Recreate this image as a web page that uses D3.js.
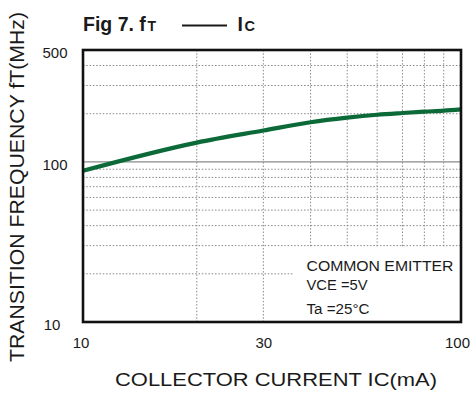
<!DOCTYPE html>
<html>
<head>
<meta charset="utf-8">
<script src="https://cdn.jsdelivr.net/npm/d3@7"></script>
<style>
  html, body { margin: 0; padding: 0; background: #fff; }
  svg { display: block; }
  text { font-family: "Liberation Sans", Arial, Helvetica, sans-serif; fill: #1a1a1a; }
</style>
</head>
<body>
<svg id="chart" width="473" height="395"></svg>
<script>
// ---- data ----
const icValues = [10, 20, 30, 40, 50, 60, 70, 80, 90, 100];        // IC (mA)
const ftValues = [88, 132, 157, 177, 189, 197, 202, 206, 209, 213]; // fT (MHz)
const xTickValues = [10, 30, 100];
const yTickValues = [10, 100, 500];
const xGridValues = [20, 30, 40, 50, 60, 70, 80, 90];
const yGridValues = [20, 30, 40, 50, 60, 70, 80, 90, 200, 300, 400];
const yMajorValues = [100];
const annotationLines = ["COMMON EMITTER", "VCE =5V", "Ta =25°C"];

// ---- layout ----
const plot = { left: 83, right: 461, top: 50, bottom: 322 };

const svg = d3.select("#chart");

const x = d3.scaleLog().domain([10, 100]).range([plot.left, plot.right]);
const y = d3.scaleLog().domain([10, 500]).range([plot.bottom, plot.top]);

// grid
const grid = svg.append("g");
grid.selectAll("line.vg").data(xGridValues).join("line")
  .attr("x1", d => x(d)).attr("x2", d => x(d))
  .attr("y1", plot.top).attr("y2", plot.bottom)
  .attr("stroke", "#888").attr("stroke-width", 1)
  .attr("stroke-dasharray", "1.5,1.8");
grid.selectAll("line.hg").data(yGridValues).join("line")
  .attr("x1", plot.left).attr("x2", plot.right)
  .attr("y1", d => y(d)).attr("y2", d => y(d))
  .attr("stroke", "#888").attr("stroke-width", 1)
  .attr("stroke-dasharray", "1.5,1.8");
grid.selectAll("line.mg").data(yMajorValues).join("line")
  .attr("x1", plot.left).attr("x2", plot.right)
  .attr("y1", d => y(d)).attr("y2", d => y(d))
  .attr("stroke", "#8a8a8a").attr("stroke-width", 1.2);

// white box behind annotation
svg.append("rect")
  .attr("x", 293).attr("y", 248)
  .attr("width", plot.right - 293).attr("height", plot.bottom - 248)
  .attr("fill", "#fff");

// curve
const line = d3.line()
  .x((d, i) => x(icValues[i]))
  .y(d => y(d))
  .curve(d3.curveMonotoneX);
svg.append("path")
  .datum(ftValues)
  .attr("d", line)
  .attr("fill", "none")
  .attr("stroke", "#0b6a38")
  .attr("stroke-width", 4.2)
  .attr("stroke-linecap", "butt");

// frame
svg.append("rect")
  .attr("x", plot.left).attr("y", plot.top)
  .attr("width", plot.right - plot.left).attr("height", plot.bottom - plot.top)
  .attr("fill", "none").attr("stroke", "#111").attr("stroke-width", 2.6);

// axes (labels only)
const xAxis = d3.axisBottom(x).tickValues(xTickValues).tickSize(0).tickPadding(15)
  .tickFormat(d3.format("d"));
const gx = svg.append("g").attr("transform", `translate(0,${plot.bottom})`).call(xAxis);
gx.select(".domain").remove();
gx.selectAll("text").attr("font-size", 15).attr("font-family", null).attr("fill", "#1a1a1a")
  .attr("dx", (d, i) => i === 0 ? -2.5 : (i === xTickValues.length - 1 ? -4 : 0));

const yAxis = d3.axisLeft(y).tickValues(yTickValues).tickSize(0).tickPadding(28)
  .tickFormat(d3.format("d"));
const gy = svg.append("g").attr("transform", `translate(${plot.left},0)`).call(yAxis);
gy.select(".domain").remove();
gy.selectAll("text").attr("font-size", 15).attr("font-family", null)
  .attr("text-anchor", "middle").attr("dy", "0.48em").attr("fill", "#1a1a1a")
  .attr("dx", (d, i) => i === 0 ? -3 : 0);

// annotation
const ann = svg.append("g");
const annBase = [271, 289.5, 313.5];
const annLen = [147, 61, 63];
ann.selectAll("text").data(annotationLines).join("text")
  .attr("x", 306.5)
  .attr("y", (d, i) => annBase[i])
  .attr("font-size", 14)
  .attr("textLength", (d, i) => annLen[i])
  .attr("lengthAdjust", "spacingAndGlyphs")
  .text(d => d);

// axis titles
svg.append("text")
  .attr("x", 115).attr("y", 386)
  .attr("font-size", 17.5)
  .attr("textLength", 322).attr("lengthAdjust", "spacingAndGlyphs")
  .text("COLLECTOR CURRENT IC(mA)");

svg.append("text")
  .attr("transform", "translate(24,362) rotate(-90)")
  .attr("x", 0).attr("y", 0)
  .attr("font-size", 19.5)
  .attr("textLength", 350).attr("lengthAdjust", "spacingAndGlyphs")
  .text("TRANSITION FREQUENCY fT(MHz)");

// chart title
const title = svg.append("g");
title.append("text").attr("x", 83).attr("y", 31).attr("font-size", 19.5)
  .attr("font-weight", "bold")
  .text("Fig 7. f");
title.append("text").attr("x", 147.5).attr("y", 31).attr("font-size", 14)
  .attr("font-weight", "bold")
  .text("T");
title.append("line").attr("x1", 182).attr("x2", 227).attr("y1", 25.5).attr("y2", 25.5)
  .attr("stroke", "#1a1a1a").attr("stroke-width", 2.2);
title.append("text").attr("x", 237.5).attr("y", 31).attr("font-size", 19.5)
  .attr("font-weight", "bold")
  .text("I");
title.append("text").attr("x", 244.5).attr("y", 31).attr("font-size", 14.5)
  .attr("font-weight", "bold")
  .text("C");
</script>
</body>
</html>
